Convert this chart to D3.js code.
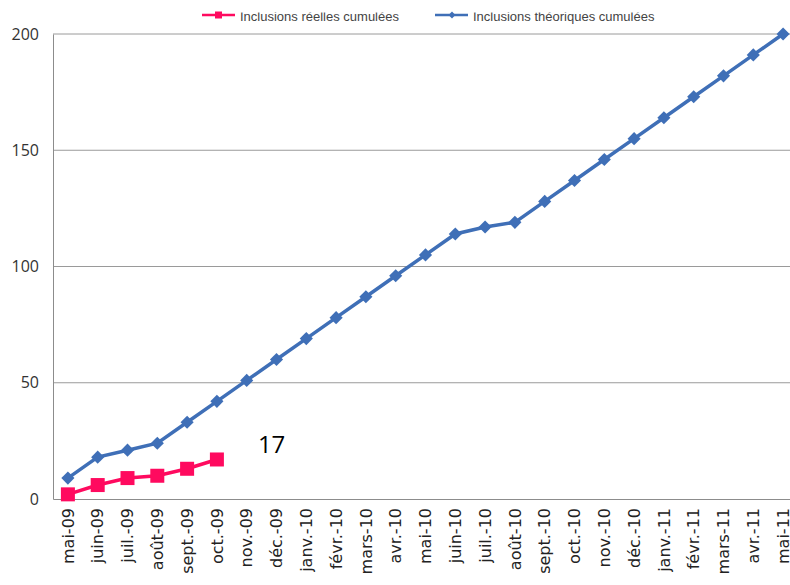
<!DOCTYPE html>
<html>
<head>
<meta charset="utf-8">
<script src="https://cdn.jsdelivr.net/npm/d3@7"></script>
<style>
  body { margin: 0; background: #fff; }
  svg { display: block; }
</style>
</head>
<body>
<div id="chart"></div>
<script>
// Chart data
var months = ["mai-09", "juin-09", "juil.-09", "août-09", "sept.-09", "oct.-09", "nov.-09", "déc.-09",
  "janv.-10", "févr.-10", "mars-10", "avr.-10", "mai-10", "juin-10", "juil.-10", "août-10", "sept.-10",
  "oct.-10", "nov.-10", "déc.-10", "janv.-11", "févr.-11", "mars-11", "avr.-11", "mai-11"];
var reelles = [2, 6, 9, 10, 13, 17];
var theoriques = [9, 18, 21, 24, 33, 42, 51, 60, 69, 78, 87, 96, 105, 114, 117, 119, 128, 137,
  146, 155, 164, 173, 182, 191, 200];
var yTicks = [0, 50, 100, 150, 200];
var seriesNames = ["Inclusions réelles cumulées", "Inclusions théoriques cumulées"];
var lastLabel = "17";

var svgWidth = 790;
var svgHeight = 585;
var margin = { top: 34, right: -8, bottom: 86, left: 53 };
var width = svgWidth - margin.left - margin.right;
var height = svgHeight - margin.top - margin.bottom;

var red = "#ff0a5f";
var blue = "#3f6fb7";

var svg = d3.select("#chart")
  .append("svg")
  .attr("width", svgWidth)
  .attr("height", svgHeight);

var chartGroup = svg.append("g")
  .attr("transform", `translate(${margin.left}, ${margin.top})`);

// scales
var xScale = d3.scaleBand()
  .domain(months)
  .range([0, width]);

var yScale = d3.scaleLinear()
  .domain([0, 200])
  .range([height, 0]);

var xPos = function(i) { return xScale(months[i]) + xScale.bandwidth() / 2; };

// gridlines
chartGroup.selectAll(".grid")
  .data(yTicks.filter(d => d > 0))
  .enter()
  .append("line")
  .attr("x1", 0)
  .attr("x2", width)
  .attr("y1", d => yScale(d))
  .attr("y2", d => yScale(d))
  .attr("stroke", "#9a9a9a")
  .attr("stroke-width", 1);

// axes
var leftAxis = d3.axisLeft(yScale).tickValues(yTicks).tickSize(0).tickPadding(14);
var yAxisG = chartGroup.append("g").call(leftAxis);
yAxisG.select(".domain").attr("stroke", "#8c8c8c");
yAxisG.selectAll("text")
  .style("font-family", "'Open Sans', 'DejaVu Sans', sans-serif")
  .style("font-size", "16px")
  .attr("fill", "#333");

var bottomAxis = d3.axisBottom(xScale).tickSize(0);
var xAxisG = chartGroup.append("g")
  .attr("transform", `translate(0, ${height})`)
  .call(bottomAxis);
xAxisG.select(".domain").attr("stroke", "#8c8c8c");
xAxisG.selectAll("text")
  .style("font-family", "'DejaVu Sans', sans-serif")
  .style("font-size", "16px")
  .attr("fill", "#222")
  .attr("text-anchor", "end")
  .attr("transform", "rotate(-90)")
  .attr("x", -9)
  .attr("y", 0)
  .attr("dy", "0.35em");

// lines
var line = d3.line()
  .x((d, i) => xPos(i))
  .y(d => yScale(d));

chartGroup.append("path")
  .datum(theoriques)
  .attr("fill", "none")
  .attr("stroke", blue)
  .attr("stroke-width", 3.5)
  .attr("d", line);

chartGroup.append("path")
  .datum(reelles)
  .attr("fill", "none")
  .attr("stroke", red)
  .attr("stroke-width", 3.5)
  .attr("d", line);

// markers
chartGroup.selectAll(".diamond")
  .data(theoriques)
  .enter()
  .append("path")
  .attr("d", d3.symbol().type(d3.symbolDiamond2).size(110))
  .attr("transform", (d, i) => `translate(${xPos(i)}, ${yScale(d)})`)
  .attr("fill", blue);

chartGroup.selectAll(".square")
  .data(reelles)
  .enter()
  .append("rect")
  .attr("x", (d, i) => xPos(i) - 7)
  .attr("y", d => yScale(d) - 7)
  .attr("width", 14)
  .attr("height", 14)
  .attr("fill", red);

// value label for last real point
chartGroup.append("text")
  .attr("x", xPos(reelles.length - 1) + 41)
  .attr("y", yScale(reelles[reelles.length - 1]) - 6)
  .style("font-family", "'Open Sans', 'DejaVu Sans', sans-serif")
  .style("font-size", "24px")
  .attr("fill", "#000")
  .text(lastLabel);

// legend (top of text is cut off in the original)
svg.append("clipPath")
  .attr("id", "legclip")
  .append("rect")
  .attr("x", 0).attr("y", 12.5).attr("width", svgWidth).attr("height", 30);

var legend = svg.append("g");
var legendItems = [
  { name: seriesNames[0], color: red, x: 202, marker: "square" },
  { name: seriesNames[1], color: blue, x: 435, marker: "diamond" }
];
legendItems.forEach(function(item) {
  legend.append("line")
    .attr("x1", item.x).attr("x2", item.x + 33)
    .attr("y1", 15).attr("y2", 15)
    .attr("stroke", item.color)
    .attr("stroke-width", 2.5);
  if (item.marker == "square") {
    legend.append("rect")
      .attr("x", item.x + 13).attr("y", 11.5)
      .attr("width", 7).attr("height", 7)
      .attr("fill", item.color);
  } else {
    legend.append("path")
      .attr("d", d3.symbol().type(d3.symbolDiamond2).size(30))
      .attr("transform", `translate(${item.x + 17}, 15)`)
      .attr("fill", item.color);
  }
  legend.append("text")
    .attr("clip-path", "url(#legclip)")
    .attr("x", item.x + 38)
    .attr("y", 21)
    .style("font-family", "'Liberation Sans', Arial, sans-serif")
    .style("font-size", "13px")
    .attr("fill", "#444")
    .text(item.name);
});
</script>
</body>
</html>
